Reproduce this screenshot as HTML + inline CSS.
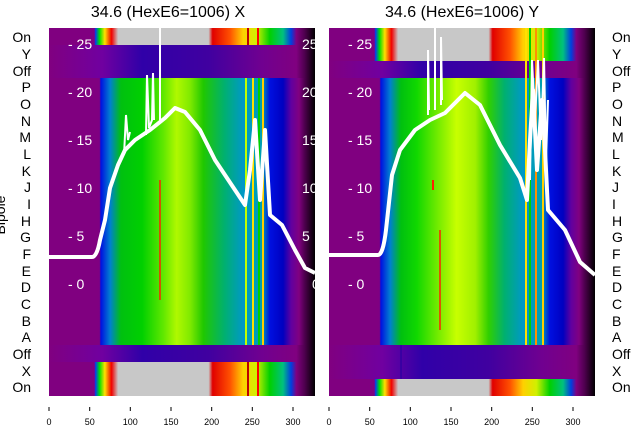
<!DOCTYPE html>
<html><head><meta charset="utf-8"><style>
body{margin:0;background:#fff}
svg{display:block}
text{font-family:"Liberation Sans","DejaVu Sans",sans-serif}
</style></head><body>
<svg width="640" height="440" viewBox="0 0 640 440" xmlns="http://www.w3.org/2000/svg">
<defs>
<linearGradient id="main" gradientUnits="userSpaceOnUse" x1="49" y1="0" x2="315" y2="0">
<stop offset="0" stop-color="#800080"/>
<stop offset="0.19" stop-color="#800080"/>
<stop offset="0.195" stop-color="#0010e0"/>
<stop offset="0.23" stop-color="#0080d0"/>
<stop offset="0.27" stop-color="#00c010"/>
<stop offset="0.33" stop-color="#10d800"/>
<stop offset="0.42" stop-color="#80ee00"/>
<stop offset="0.48" stop-color="#c8ff00"/>
<stop offset="0.55" stop-color="#a0f000"/>
<stop offset="0.6" stop-color="#30d000"/>
<stop offset="0.66" stop-color="#00b070"/>
<stop offset="0.73" stop-color="#0098c8"/>
<stop offset="0.8" stop-color="#00a0b0"/>
<stop offset="0.83" stop-color="#0010e0"/>
<stop offset="0.88" stop-color="#0000c0"/>
<stop offset="0.91" stop-color="#6000a0"/>
<stop offset="0.94" stop-color="#800080"/>
<stop offset="0.96" stop-color="#500050"/>
<stop offset="1" stop-color="#000"/>
</linearGradient>
<linearGradient id="mainL" gradientUnits="userSpaceOnUse" x1="49" y1="0" x2="315" y2="0">
<stop offset="0" stop-color="#800080"/>
<stop offset="0.19" stop-color="#800080"/>
<stop offset="0.195" stop-color="#0010e0"/>
<stop offset="0.23" stop-color="#0080d0"/>
<stop offset="0.27" stop-color="#00c010"/>
<stop offset="0.35" stop-color="#00d000"/>
<stop offset="0.43" stop-color="#60e800"/>
<stop offset="0.48" stop-color="#b0f800"/>
<stop offset="0.53" stop-color="#80ea00"/>
<stop offset="0.58" stop-color="#20c800"/>
<stop offset="0.66" stop-color="#00b070"/>
<stop offset="0.73" stop-color="#0098c8"/>
<stop offset="0.8" stop-color="#00a0b0"/>
<stop offset="0.83" stop-color="#0010e0"/>
<stop offset="0.88" stop-color="#0000c0"/>
<stop offset="0.91" stop-color="#6000a0"/>
<stop offset="0.94" stop-color="#800080"/>
<stop offset="0.96" stop-color="#500050"/>
<stop offset="1" stop-color="#000"/>
</linearGradient>
<linearGradient id="spec" gradientUnits="userSpaceOnUse" x1="49" y1="0" x2="315" y2="0">
<stop offset="0" stop-color="#800080"/>
<stop offset="0.17" stop-color="#800080"/>
<stop offset="0.175" stop-color="#0040f0"/>
<stop offset="0.19" stop-color="#00e000"/>
<stop offset="0.21" stop-color="#ffe000"/>
<stop offset="0.235" stop-color="#f00000"/>
<stop offset="0.26" stop-color="#c8c8c8"/>
<stop offset="0.6" stop-color="#c8c8c8"/>
<stop offset="0.615" stop-color="#e00000"/>
<stop offset="0.68" stop-color="#ff5000"/>
<stop offset="0.73" stop-color="#ffd000"/>
<stop offset="0.78" stop-color="#d0f000"/>
<stop offset="0.83" stop-color="#00d000"/>
<stop offset="0.88" stop-color="#00c080"/>
<stop offset="0.91" stop-color="#0040e0"/>
<stop offset="0.93" stop-color="#800080"/>
<stop offset="0.96" stop-color="#500050"/>
<stop offset="1" stop-color="#000"/>
</linearGradient>
<linearGradient id="off" gradientUnits="userSpaceOnUse" x1="49" y1="0" x2="315" y2="0">
<stop offset="0" stop-color="#800080"/>
<stop offset="0.2" stop-color="#7000a0"/>
<stop offset="0.35" stop-color="#3000a8"/>
<stop offset="0.6" stop-color="#4000a0"/>
<stop offset="0.8" stop-color="#700090"/>
<stop offset="0.93" stop-color="#800080"/>
<stop offset="0.96" stop-color="#500050"/>
<stop offset="1" stop-color="#000"/>
</linearGradient>
</defs>
<g font-size="16" fill="#000">
<text x="168" y="17" text-anchor="middle">34.6 (HexE6=1006) X</text>
<text x="462" y="17" text-anchor="middle">34.6 (HexE6=1006) Y</text>
</g>
<!-- left plot -->
<g>
<rect x="49" y="28" width="266" height="368" fill="url(#off)"/>
<rect x="49" y="28" width="266" height="17" fill="url(#spec)"/>
<rect x="49" y="78" width="266" height="267" fill="url(#mainL)"/>
<rect x="49" y="362" width="266" height="34" fill="url(#off)"/>
<rect x="49" y="362" width="266" height="34" fill="url(#spec)"/>
<g stroke-width="2">
<line x1="246" y1="78" x2="246" y2="345" stroke="#c0ff00"/>
<line x1="253" y1="78" x2="253" y2="345" stroke="#ffe000"/>
<line x1="259" y1="78" x2="259" y2="345" stroke="#00d000"/>
<line x1="263" y1="78" x2="263" y2="345" stroke="#ffd000"/>
<line x1="160" y1="180" x2="160" y2="300" stroke="#ff2000" stroke-width="1.5"/>
<line x1="248" y1="28" x2="248" y2="45" stroke="#c00000"/>
<line x1="258" y1="28" x2="258" y2="45" stroke="#ff0000"/>
<line x1="248" y1="362" x2="248" y2="396" stroke="#c00000"/>
<line x1="258" y1="362" x2="258" y2="396" stroke="#ff0000"/>
</g>
<path d="M49,257 L92,257 Q97,257 100,240 L105,220 L110,188 L118,165 L125,150 L135,140 L150,130 L165,118 L175,108 L185,112 L200,130 L215,160 L235,190 L245,205 L250,170 L255,120 L260,200 L265,130 L270,215 L282,225 L295,250 L305,268 L315,273" fill="none" stroke="#fff" stroke-width="4" stroke-linejoin="round"/>
<g stroke="#fff" stroke-width="2" fill="none">
<path d="M124,155 L126,115 L128,140 L130,132"/>
<path d="M146,135 L147,75 L149,128 L152,120 L153,73 L154,120"/>
<path d="M160,120 L160,28"/>
</g>
<g fill="#fff" font-size="14">
<text x="68" y="49">- 25</text><text x="68" y="97">- 20</text><text x="68" y="145">- 15</text>
<text x="68" y="193">- 10</text><text x="68" y="241">- 5</text><text x="68" y="289">- 0</text>
</g>
</g>
<!-- right plot -->
<g transform="translate(280,0)">
<rect x="49" y="28" width="266" height="368" fill="url(#off)"/>
<rect x="49" y="28" width="266" height="33" fill="url(#spec)"/>
<rect x="49" y="78" width="266" height="267" fill="url(#main)"/>
<rect x="49" y="379" width="266" height="17" fill="url(#spec)"/>
<line x1="121" y1="345" x2="121" y2="379" stroke="#2000a0"/>
<g stroke-width="2">
<line x1="246" y1="28" x2="246" y2="345" stroke="#ffe000"/>
<line x1="250" y1="28" x2="250" y2="345" stroke="#00d000"/>
<line x1="256" y1="28" x2="256" y2="345" stroke="#ff9000"/>
<line x1="263" y1="28" x2="263" y2="345" stroke="#ffd000"/>
<line x1="153" y1="180" x2="153" y2="190" stroke="#ff2000"/>
<line x1="160" y1="230" x2="160" y2="330" stroke="#ff2000" stroke-width="1.5"/>
</g>
<path d="M49,255 L98,255 Q103,255 106,230 L112,175 L120,150 L135,130 L150,120 L165,113 L185,93 L200,105 L220,145 L240,178 L247,200 L250,140 L253,90 L257,170 L262,100 L265,150 L268,210 L285,230 L300,262 L315,275" fill="none" stroke="#fff" stroke-width="4" stroke-linejoin="round"/>
<g stroke="#fff" stroke-width="2" fill="none">
<path d="M148,115 L148,50 L149,110"/>
<path d="M155,110 L155,28"/>
<path d="M161,105 L161,37 L162,100"/>
<path d="M250,180 L252,60 L255,120 L258,60 L261,140 L264,58 L266,160 L268,100"/>
</g>
<g fill="#fff" font-size="14">
<text x="68" y="49">- 25</text><text x="68" y="97">- 20</text><text x="68" y="145">- 15</text>
<text x="68" y="193">- 10</text><text x="68" y="241">- 5</text><text x="68" y="289">- 0</text>
</g>
</g>
<g fill="#fff" font-size="14">
<text x="302" y="49">25</text><text x="302" y="97">20</text><text x="302" y="145">15</text>
<text x="302" y="193">10</text><text x="302" y="241">5</text><text x="312" y="289">0</text>
</g>
<g font-size="14" fill="#000" text-anchor="end">
<text x="31" y="42">On</text><text x="31" y="59">Y</text><text x="31" y="76">Off</text><text x="31" y="92">P</text>
<text x="31" y="109">O</text><text x="31" y="126">N</text><text x="31" y="142">M</text><text x="31" y="159">L</text>
<text x="31" y="176">K</text><text x="31" y="192">J</text><text x="31" y="209">I</text><text x="31" y="226">H</text>
<text x="31" y="242">G</text><text x="31" y="259">F</text><text x="31" y="276">E</text><text x="31" y="292">D</text>
<text x="31" y="309">C</text><text x="31" y="326">B</text><text x="31" y="342">A</text><text x="31" y="359">Off</text>
<text x="31" y="376">X</text><text x="31" y="392">On</text>
</g>
<g font-size="14" fill="#000" text-anchor="start">
<text x="612" y="42">On</text><text x="612" y="59">Y</text><text x="612" y="76">Off</text><text x="612" y="92">P</text>
<text x="612" y="109">O</text><text x="612" y="126">N</text><text x="612" y="142">M</text><text x="612" y="159">L</text>
<text x="612" y="176">K</text><text x="612" y="192">J</text><text x="612" y="209">I</text><text x="612" y="226">H</text>
<text x="612" y="242">G</text><text x="612" y="259">F</text><text x="612" y="276">E</text><text x="612" y="292">D</text>
<text x="612" y="309">C</text><text x="612" y="326">B</text><text x="612" y="342">A</text><text x="612" y="359">Off</text>
<text x="612" y="376">X</text><text x="612" y="392">On</text>
</g>
<text transform="translate(5,215) rotate(-90)" font-size="14" text-anchor="middle">Bipole</text>
<g stroke="#000" stroke-width="1">
<path d="M49,407v4M89.7,407v4M130.3,407v4M171,407v4M211.7,407v4M252.3,407v4M293,407v4"/>
<path d="M329,407v4M369.7,407v4M410.3,407v4M451,407v4M491.7,407v4M532.3,407v4M573,407v4"/>
</g>
<g font-size="9" fill="#000" text-anchor="middle">
<text x="49" y="425">0</text><text x="89.7" y="425">50</text><text x="130.3" y="425">100</text><text x="171" y="425">150</text><text x="211.7" y="425">200</text><text x="252.3" y="425">250</text><text x="293" y="425">300</text>
<text x="329" y="425">0</text><text x="369.7" y="425">50</text><text x="410.3" y="425">100</text><text x="451" y="425">150</text><text x="491.7" y="425">200</text><text x="532.3" y="425">250</text><text x="573" y="425">300</text>
</g>
</svg>
</body></html>
